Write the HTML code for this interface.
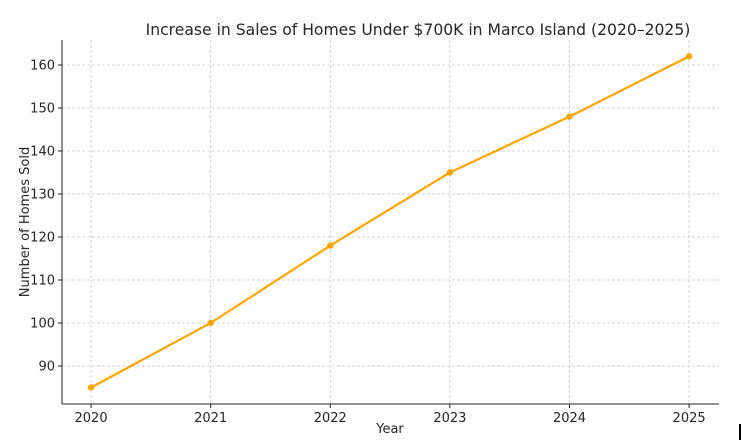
<!DOCTYPE html>
<html><head><meta charset="utf-8"><style>
body{margin:0;background:#fff;}
svg{display:block;font-family:"DejaVu Sans","Liberation Sans",sans-serif;}
</style></head><body>
<svg id="chart" width="751" height="446">
<text x="418" y="35" text-anchor="middle" font-size="15.6" fill="#262626">Increase in Sales of Homes Under $700K in Marco Island (2020–2025)</text>
<g id="grid"></g><g id="ticks"></g><g id="series"></g>
<line x1="62" y1="40" x2="62" y2="404" stroke="#222" stroke-width="1"/>
<line x1="62" y1="404" x2="719" y2="404" stroke="#222" stroke-width="1"/>
<text x="390" y="433" text-anchor="middle" font-size="13" fill="#262626">Year</text>
<text transform="translate(29,222) rotate(-90)" text-anchor="middle" font-size="13" fill="#262626">Number of Homes Sold</text>
<rect x="739" y="424" width="2" height="16" fill="#000"/>
</svg>
<script>
const years = [2020, 2021, 2022, 2023, 2024, 2025];
const homesSold = [85, 100, 118, 135, 148, 162];
const yTicks = [90, 100, 110, 120, 130, 140, 150, 160];
const NS = "http://www.w3.org/2000/svg";
const X0 = 62, X1 = 719, Y0 = 404, Y1 = 40;
const xMin = 2019.757, xMax = 2025.25, yMin = 81.16, yMax = 165.81;
function xs(v){return X0 + (v - xMin) / (xMax - xMin) * (X1 - X0);}
function ys(v){return Y0 - (v - yMin) / (yMax - yMin) * (Y0 - Y1);}
function mk(tag, attrs, parent){const e=document.createElementNS(NS,tag);for(const k in attrs)e.setAttribute(k,attrs[k]);parent.appendChild(e);return e;}
const grid=document.getElementById('grid'), ticks=document.getElementById('ticks'), series=document.getElementById('series');
yTicks.forEach(t=>{
  const y=ys(t);
  const g=mk('line',{x1:X0,x2:X1,y1:y,y2:y,stroke:'#c8c8c8','stroke-width':0.8,'stroke-dasharray':'3,2'},grid);
  
  
  const tk=mk('line',{x1:X0-4,x2:X0,y1:y,y2:y,stroke:'#222'},ticks);
  
  
  const tx=mk('text',{x:X0-7,y:y+4.5,'text-anchor':'end','font-size':13,fill:'#262626'},ticks);
  tx.textContent=t;
  
  
});
years.forEach(t=>{
  const x=xs(t);
  const g=mk('line',{x1:x,x2:x,y1:Y1,y2:Y0,stroke:'#c8c8c8','stroke-width':0.8,'stroke-dasharray':'3,2'},grid);
  
  
  const tk=mk('line',{x1:x,x2:x,y1:Y0,y2:Y0+4,stroke:'#222'},ticks);
  
  
  const tx=mk('text',{x:x,y:Y0+18,'text-anchor':'middle','font-size':13,fill:'#262626'},ticks);
  tx.textContent=t;
  
  
});
const pts=years.map((yr,i)=>xs(yr)+','+ys(homesSold[i])).join(' ');
const line=mk('polyline',{points:pts,fill:'none',stroke:'#FFA500','stroke-width':2.2},series);


years.forEach((yr,i)=>{
  const c=mk('circle',{cx:xs(yr),cy:ys(homesSold[i]),r:3.2,fill:'#FFA500'},series);
  
  
});
</script>
</body></html>
